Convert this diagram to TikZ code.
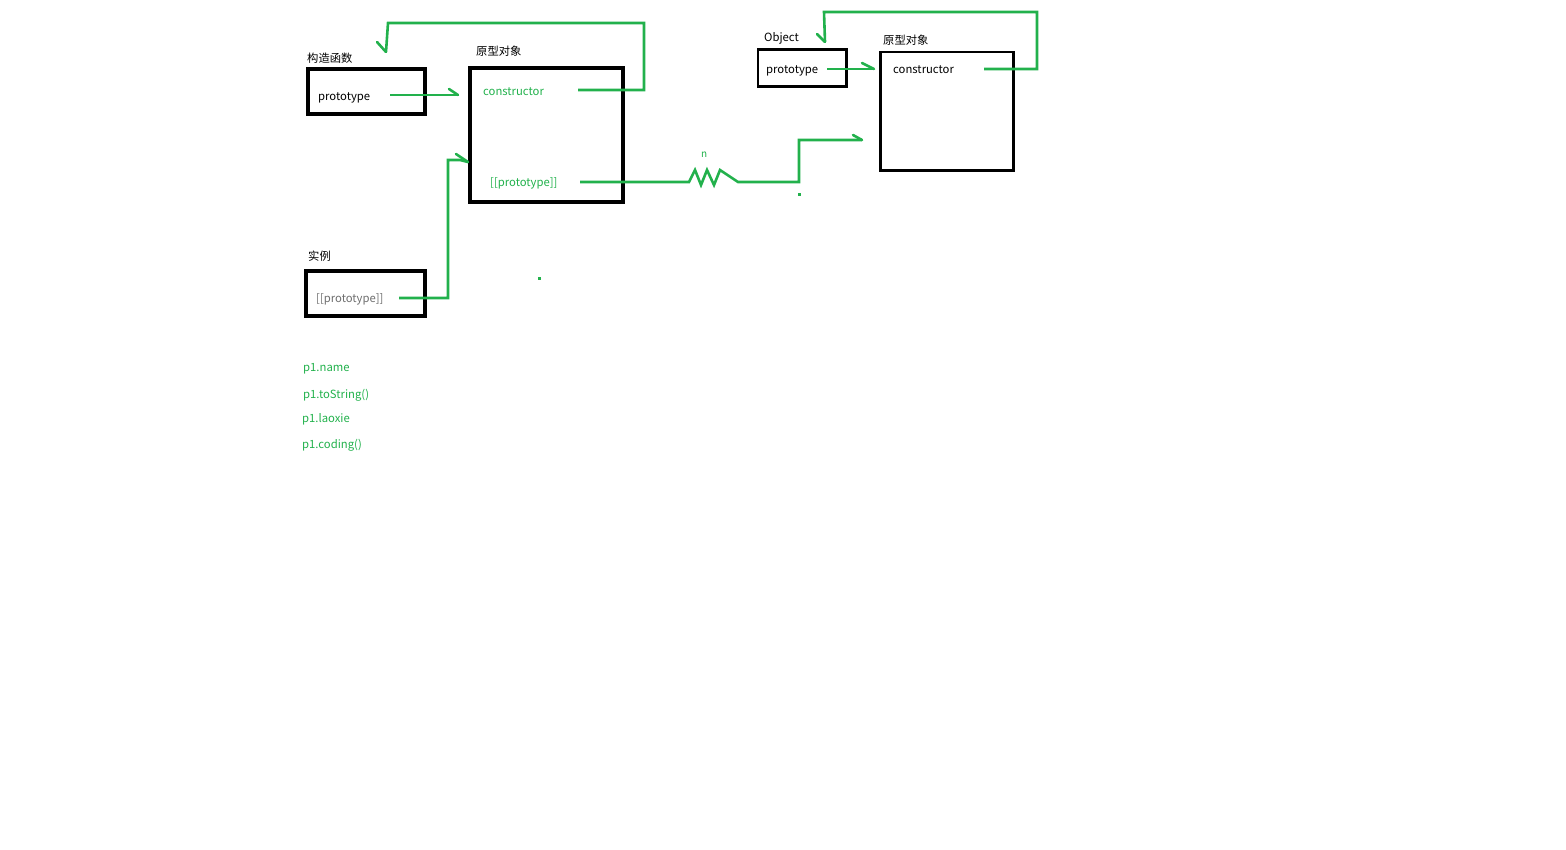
\documentclass[tikz,border=0pt]{standalone}
\usepackage{fontspec}
\setmainfont{Noto Sans CJK SC}
\begin{document}
\definecolor{paintgreen}{RGB}{34,177,76}
\definecolor{graytext}{RGB}{110,110,110}
\begin{tikzpicture}[x=1pt,y=-1pt,
  txt/.style={anchor=west,inner sep=0pt,yshift=-2pt,font=\fontsize{11.3}{13}\selectfont},
  gtxt/.style={txt,text=paintgreen},
  heavybox/.style={draw=black,line width=4pt},
  thinbox/.style={draw=black,line width=2.6pt},
  link/.style={draw=paintgreen,line width=2.6pt,line join=miter},
  barb/.style={draw=paintgreen,line width=2.6pt,line cap=round},
  speck/.style={fill=paintgreen}]
\useasboundingbox (0,0) rectangle (1566,850);

% ---- constructor function ----
\draw[heavybox] (308,69) rectangle (425,114);
\node[txt] (ctorlbl) at (307,56) {构造函数};
\node[txt] (ctorproto) at (318,96) {prototype};

% ---- prototype object ----
\draw[heavybox] (470,68) rectangle (623,202);
\node[txt] (protolbl) at (476,49) {原型对象};
\node[gtxt] (protoctor) at (483,90) {constructor};
\node[gtxt] (protoproto) at (490,181) {[[prototype]]};

% ---- instance ----
\draw[heavybox] (306,271) rectangle (425,316);
\node[txt] (instlbl) at (308,254) {实例};
\node[txt,text=graytext] (instproto) at (316,297) {[[prototype]]};

% ---- Object ----
\draw[thinbox] (758,49.5) rectangle (846.5,86.5);
\node[txt] (objlbl) at (764,36) {Object};
\node[txt] (objproto) at (766,69) {prototype};

% ---- Object prototype ----
\draw[thinbox] (880.5,52) rectangle (1013.5,170.5);
\node[txt] (oprotolbl) at (883,38) {原型对象};
\node[txt] (oprotoctor) at (893,68) {constructor};

% ---- member access list ----
\node[gtxt] (m1) at (303,367) {p1.name};
\node[gtxt] (m2) at (303,393) {p1.toString()};
\node[gtxt] (m3) at (302,417) {p1.laoxie};
\node[gtxt] (m4) at (302,443) {p1.coding()};

% chain label
\node[gtxt,font=\fontsize{10}{11}\selectfont] (nlbl) at (701,153) {n};

% ---- connector endpoints ----
\coordinate (a1s) at (390,95);   \coordinate (a1t) at (458,95);
\coordinate (a2s) at (578,90);   \coordinate (a2t) at (386,52);
\coordinate (a3s) at (399,298);  \coordinate (a3t) at (468,162);
\coordinate (a4s) at (580,182);  \coordinate (a4t) at (862,140);
\coordinate (a5s) at (827,69);   \coordinate (a5t) at (874,69);
\coordinate (a6s) at (984,69);   \coordinate (a6t) at (825,42);

% prototype -> prototype object
\draw[link] (a1s) -- (a1t);
\draw[barb] (449,89) -- (a1t);

% constructor -> constructor function
\draw[link] (a2s) -- (644,90) -- (644,23) -- (388,23) -- (a2t);
\draw[barb] (377,42) -- (a2t);

% instance [[prototype]] -> prototype object
\draw[link] (a3s) -- (448,298) -- (448,160) -- (460,160) -- (a3t);
\draw[barb] (456,154) -- (a3t);

% prototype object [[prototype]] ~~> Object prototype
\draw[link] (a4s) -- (689,182) -- (695,170) -- (701,185) -- (707,170)
  -- (714,185) -- (720,170) -- (738,182) -- (799,182) -- (799,140) -- (a4t);
\draw[barb] (853,135) -- (a4t);

% Object.prototype -> Object prototype
\draw[link] (a5s) -- (a5t);
\draw[barb] (862,63) -- (a5t);

% constructor -> Object
\draw[link] (a6s) -- (1037,69) -- (1037,12) -- (824,12) -- (a6t);
\draw[barb] (817,34) -- (a6t);

% stray specks
\fill[speck] (797.5,193.5) rectangle (800.5,196.5);
\fill[speck] (537.5,277.5) rectangle (540.5,280.5);
\end{tikzpicture}
\end{document}
